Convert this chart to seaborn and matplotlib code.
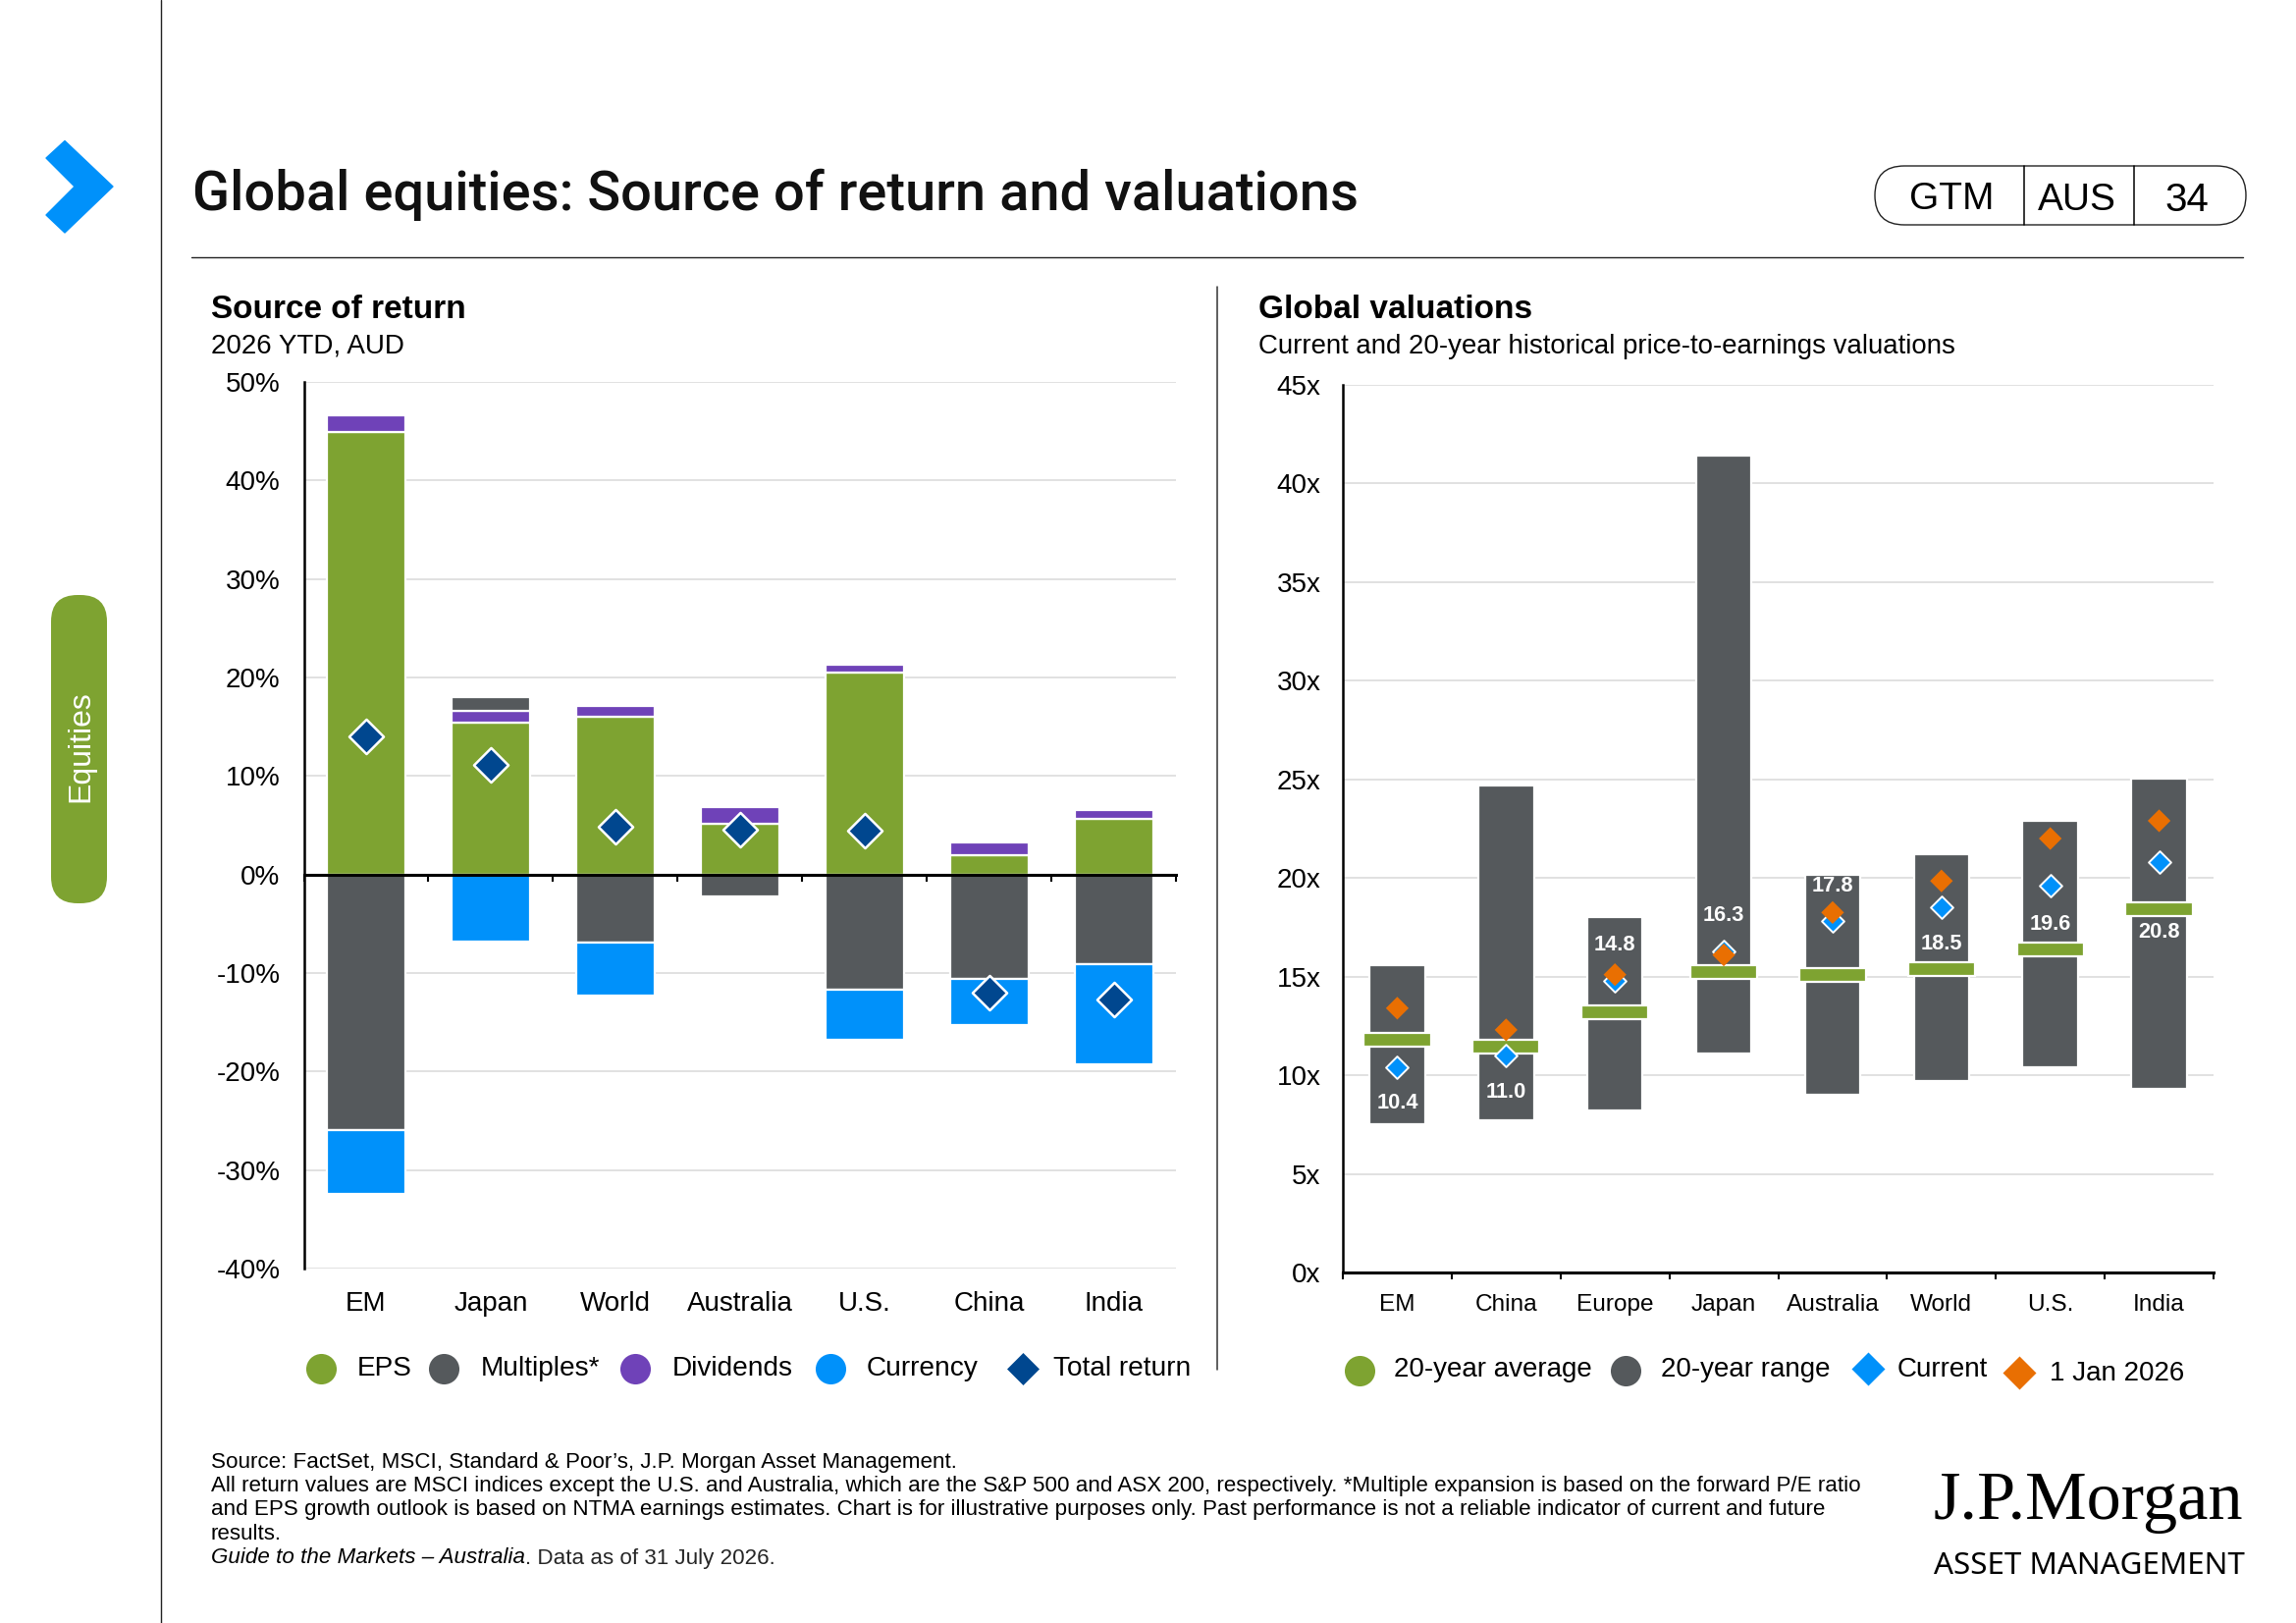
import numpy as np
import pandas as pd
import seaborn as sns
import matplotlib.pyplot as plt
from matplotlib.patches import FancyBboxPatch, Polygon

W, H = 2339, 1653

# left chart
return_regions = ['EM', 'Japan', 'World', 'Australia', 'U.S.', 'China', 'India']
eps = [44.9, 15.4, 16.05, 5.1, 20.5, 2.0, 5.6]
dividends = [1.7, 1.25, 1.1, 1.7, 0.75, 1.3, 0.9]
multiples = [-25.9, 1.4, -6.9, -2.2, -11.65, -10.55, -9.1]
currency = [-6.5, -6.85, -5.4, 0, -5.15, -4.7, -10.2]
total_return = [14.05, 11.15, 4.9, 4.6, 4.5, -11.95, -12.7]

# right chart
val_regions = ['EM', 'China', 'Europe', 'Japan', 'Australia', 'World', 'U.S.', 'India']
range_low = [7.5, 7.7, 8.2, 11.1, 9.0, 9.7, 10.4, 9.3]
range_high = [15.6, 24.7, 18.0, 41.4, 20.15, 21.2, 22.9, 25.05]
average = [11.8, 11.45, 13.2, 15.25, 15.1, 15.4, 16.4, 18.4]
current = [10.4, 11.0, 14.8, 16.3, 17.8, 18.5, 19.6, 20.8]
jan_2026 = [13.4, 12.3, 15.1, 16.1, 18.25, 19.85, 22.0, 22.9]
# label shift from the current marker, in pixels
label_shift = [-36, -37, 36, 36, 36, -37, -39, -71]

GREEN = '#7ea331'
GRAY = '#55595c'
PURPLE = '#6f42b8'
BLUE = '#0091fa'
NAVY = '#00478f'
ORANGE = '#e96f02'
GRID = '#d9d9d9'

sns.set_style('white')
plt.rcParams['font.family'] = ['Liberation Sans', 'DejaVu Sans']

fig = plt.figure(figsize=(W / 100, H / 100), dpi=100)


def axes_px(x0, y0, x1, y1):
    return fig.add_axes([x0 / W, 1 - y1 / H, (x1 - x0) / W, (y1 - y0) / H])


def stack_bar(ax, regions, values, bottoms, color, width):
    df = pd.DataFrame({'region': regions, 'value': values, 'bottom': bottoms})
    df = df[df['value'] != 0]
    sns.barplot(data=df, x='region', y='value', order=regions, bottom=df['bottom'].values,
                color=color, saturation=1, width=width, edgecolor='white', linewidth=1.6,
                errorbar=None, ax=ax, zorder=2)


def style_axes(ax, regions, ymin, ymax, step, fmt, xsize, xpad, ypad, axis_frac):
    ax.set_xlim(-0.5, len(regions) - 0.5)
    ax.set_ylim(ymin, ymax)
    ticks = np.arange(ymin, ymax + 1, step)
    ax.set_yticks(ticks)
    ax.set_yticklabels([fmt % t for t in ticks])
    ax.set_xlabel('')
    ax.set_ylabel('')
    ax.set_axisbelow(True)
    ax.grid(axis='y', color=GRID, linewidth=1.1)
    ax.grid(axis='x', visible=False)
    sns.despine(ax=ax, top=True, right=True, bottom=True)
    ax.spines['left'].set_color('black')
    ax.spines['left'].set_linewidth(1.8)
    ax.tick_params(axis='y', left=False, labelsize=20, pad=ypad, colors='black')
    ax.tick_params(axis='x', bottom=False, labelsize=xsize, pad=xpad, colors='black')
    # category boundary ticks sit on the zero line
    sec = ax.secondary_xaxis(axis_frac)
    sec.set_zorder(4)
    sec.set_xticks(np.arange(len(regions) + 1) - 0.5)
    sec.tick_params(axis='x', bottom=True, direction='out', length=5, width=1.5,
                    labelbottom=False, color='black')
    sec.spines['bottom'].set_color('black')
    sec.spines['bottom'].set_linewidth(2.2)
    sec.spines['bottom'].set_visible(True)


# source of return
ax1 = axes_px(309.5, 389, 1198, 1292)
pos = np.zeros(len(return_regions))
neg = np.zeros(len(return_regions))
for vals, col in [(eps, GREEN), (dividends, PURPLE), (multiples, GRAY), (currency, BLUE)]:
    vals = np.array(vals, dtype=float)
    base = np.where(vals >= 0, pos, neg)
    stack_bar(ax1, return_regions, vals, base, col, 0.63)
    pos = pos + np.clip(vals, 0, None)
    neg = neg + np.clip(vals, None, 0)
sns.scatterplot(x=return_regions, y=total_return, marker='D', s=320, color=NAVY,
                edgecolor='white', linewidth=1.8, zorder=5, legend=False, ax=ax1)
style_axes(ax1, return_regions, -40, 50, 10, '%d%%', 20, 13, 13.8, 40 / 90)

# valuations
ax2 = axes_px(1368, 392, 2255, 1296)
low = np.array(range_low)
stack_bar(ax2, val_regions, np.array(range_high) - low, low, GRAY, 0.51)
avg_height = 0.7
stack_bar(ax2, val_regions, [avg_height] * len(average), np.array(average) - avg_height / 2,
          GREEN, 0.615)
sns.scatterplot(x=val_regions, y=current, marker='D', s=135, color=BLUE,
                edgecolor='white', linewidth=1.4, zorder=5, legend=False, ax=ax2)
sns.scatterplot(x=val_regions, y=jan_2026, marker='D', s=140, color=ORANGE,
                edgecolor='none', linewidth=0, zorder=6, legend=False, ax=ax2)
for i, (val, shift) in enumerate(zip(current, label_shift)):
    ax2.annotate('%.1f' % val, (i, val), xytext=(0, shift * 0.72), textcoords='offset points',
                 ha='center', va='center', color='white', fontsize=15.7, fontweight='bold', zorder=7)
style_axes(ax2, val_regions, 0, 45, 5, '%dx', 17.6, 12, 12.7, 0)

# page furniture in pixel coordinates
page = fig.add_axes([0, 0, 1, 1], facecolor='none')
page.set_xlim(0, W)
page.set_ylim(H, 0)
page.axis('off')


def label(x, y, s, size, **kw):
    return page.text(x, y, s, fontsize=size, va=kw.pop('va', 'center'), ha=kw.pop('ha', 'left'),
                     color=kw.pop('color', 'black'), **kw)


page.plot([164, 164], [0, H], color='#222222', lw=1)
page.plot([195, 2285], [261.5, 261.5], color='#222222', lw=1)
page.plot([1240, 1240], [292, 1395], color='#333333', lw=1.1)

page.add_patch(Polygon([(47, 161), (66, 143.5), (115, 190), (66, 237), (47, 219), (76, 190)],
                       closed=True, facecolor=BLUE, edgecolor=BLUE, lw=1, joinstyle='round'))
page.add_patch(FancyBboxPatch((52, 606), 57, 314, boxstyle='round,pad=0,rounding_size=27',
                              facecolor=GREEN, edgecolor='none'))
label(82, 760, 'Equities', 23, ha='center', rotation=90, color='white')

label(195.5, 198, 'Global equities: Source of return and valuations', 40.3,
      family='Roboto', fontweight='medium', color='#111111')

page.add_patch(FancyBboxPatch((1910, 169), 378, 60, boxstyle='round,pad=0,rounding_size=30',
                              facecolor='white', edgecolor='#222222', lw=1))
page.plot([2062, 2062], [169, 229], color='black', lw=1.1)
page.plot([2174, 2174], [169, 229], color='black', lw=1.1)
label(1988, 203, 'GTM', 28, ha='center')
label(2116, 204, 'AUS', 28, ha='center')
label(2228, 204, '34', 29, ha='center')

label(215, 316, 'Source of return', 24, fontweight='bold')
label(215, 352.5, '2026 YTD, AUD', 20)
label(1281.5, 316, 'Global valuations', 24, fontweight='bold')
label(1281.5, 352.5, 'Current and 20-year historical price-to-earnings valuations', 19.9)

# legends
for x, tx, name, col, mk, size in [
        (326.6, 364, 'EPS', GREEN, 'o', 500),
        (451.8, 489.3, 'Multiples*', GRAY, 'o', 500),
        (647.3, 684.8, 'Dividends', PURPLE, 'o', 500),
        (845.6, 883, 'Currency', BLUE, 'o', 500),
        (1041.8, 1073, 'Total return', NAVY, 'D', 282)]:
    page.scatter([x], [1394], s=size, marker=mk, color=col, linewidths=0)
    label(tx, 1394, name, 20.2)
for x, y, tx, ty, name, col, mk, size in [
        (1384.8, 1395.5, 1420.5, 1394.5, '20-year average', GREEN, 'o', 500),
        (1655.8, 1395.5, 1691.6, 1394.5, '20-year range', GRAY, 'o', 500),
        (1903.3, 1394, 1933, 1394.5, 'Current', BLUE, 'D', 300),
        (2057, 1397.5, 2088, 1398.5, '1 Jan 2026', ORANGE, 'D', 300)]:
    page.scatter([x], [y], s=size, marker=mk, color=col, linewidths=0)
    label(tx, ty, name, 20)

# footnotes
notes = ['Source: FactSet, MSCI, Standard & Poor\u2019s, J.P. Morgan Asset Management.',
         'All return values are MSCI indices except the U.S. and Australia, which are the S&P 500 and ASX 200, respectively. *Multiple expansion is based on the forward P/E ratio',
         'and EPS growth outlook is based on NTMA earnings estimates. Chart is for illustrative purposes only. Past performance is not a reliable indicator of current and future',
         'results.']
for y, s in zip([1489, 1513.5, 1538, 1562.5], notes):
    label(214.6, y, s, 16.1)
guide = label(214.6, 1587, 'Guide to the Markets \u2013 Australia', 16.1, style='italic')
page.annotate('. Data as of 31 July 2026.', xy=(1, 0.5), xycoords=guide, fontsize=16.1,
              va='center', ha='left')

# logo
label(1970, 1547, 'J.P.Morgan', 50.7, family='Liberation Serif', va='baseline')
label(1970, 1603, 'ASSET MANAGEMENT', 22.6, family='Noto Sans', va='baseline')

fig.savefig('out.png', dpi=100)
